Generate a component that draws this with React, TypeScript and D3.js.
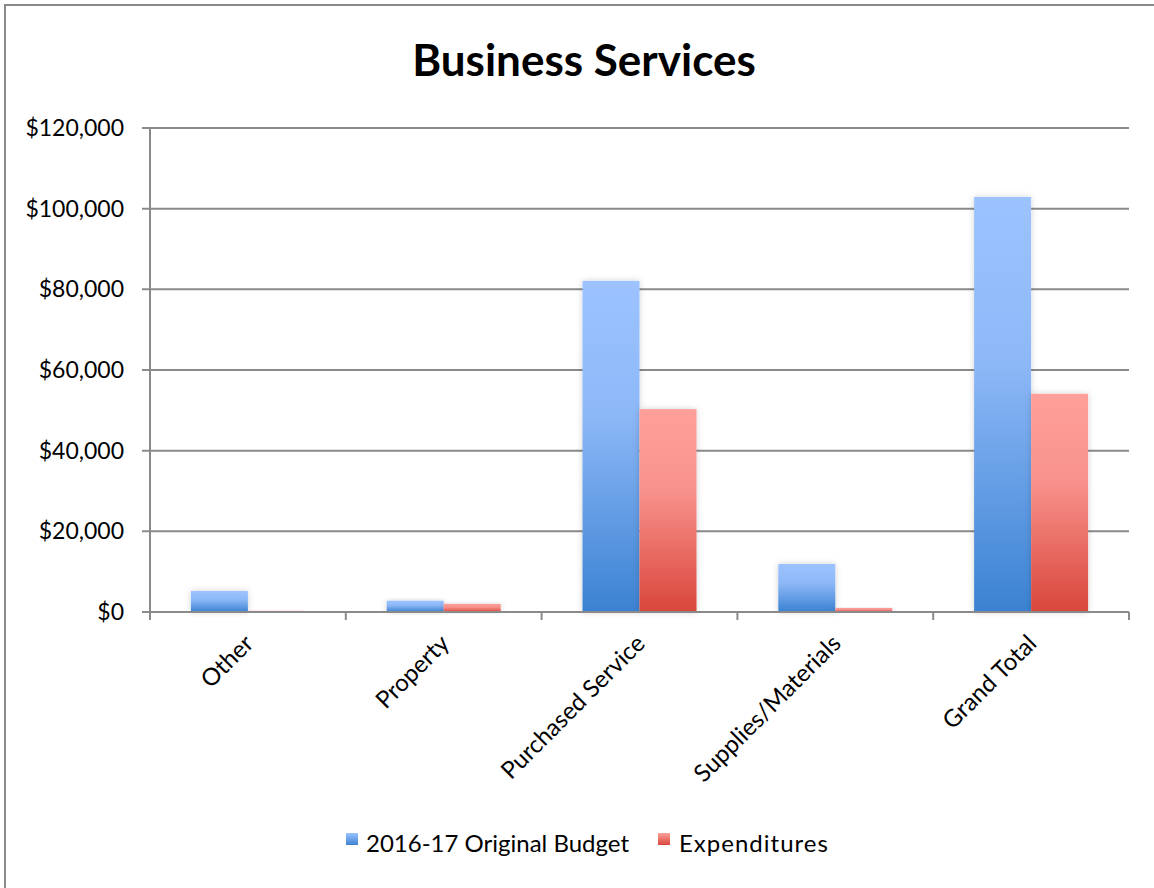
import React from "react";
import * as d3 from "d3";

const categories = ["Other", "Property", "Purchased Service", "Supplies/Materials", "Grand Total"];
const budget = [5200, 2800, 82100, 11900, 102900];
const expenditures = [300, 2000, 50300, 1000, 54100];
const seriesNames = ["2016-17 Original Budget", "Expenditures"];
const yTicks = [0, 20000, 40000, 60000, 80000, 100000, 120000];

const W = 1154, H = 888;
const FONT = "Lato, 'Open Sans', sans-serif";

export default function App() {
  const x0 = d3.scaleBand<string>().domain(categories).range([150, 1129]).paddingInner(0).paddingOuter(0);
  const y = d3.scaleLinear().domain([0, 120000]).range([612, 128]);
  const bw = 57;
  const fmt = (v: number) => "$" + d3.format(",")(v);
  const series = [budget, expenditures];
  const grads = ["gBlue", "gRed"];

  return (
    <svg width={W} height={H} style={{ position: "absolute", left: 0, top: 0 }}>
      <defs>
        <linearGradient id="gBlue" x1="0" y1="0" x2="0" y2="1">
          <stop offset="0%" stopColor="#9CC3FF" />
          <stop offset="40%" stopColor="#8DB8F7" />
          <stop offset="100%" stopColor="#3B82D2" />
        </linearGradient>
        <linearGradient id="gRed" x1="0" y1="0" x2="0" y2="1">
          <stop offset="0%" stopColor="#FF9F9A" />
          <stop offset="40%" stopColor="#F8928C" />
          <stop offset="100%" stopColor="#D9463B" />
        </linearGradient>
        <linearGradient id="lBlue" x1="0" y1="0" x2="0" y2="1">
          <stop offset="0%" stopColor="#9CC3FF" />
          <stop offset="100%" stopColor="#3B82D2" />
        </linearGradient>
        <linearGradient id="lRed" x1="0" y1="0" x2="0" y2="1">
          <stop offset="0%" stopColor="#FF9F9A" />
          <stop offset="100%" stopColor="#D9463B" />
        </linearGradient>
        <filter id="shadow" x="-20%" y="-20%" width="140%" height="140%">
          <feDropShadow dx="0" dy="0" stdDeviation="3" floodColor="#000" floodOpacity="0.18" />
        </filter>
      </defs>
      <rect x={0} y={0} width={W} height={H} fill="#fff" />
      <rect x={5} y={5} width={W + 10} height={H + 10} fill="none" stroke="#8a8a8a" strokeWidth={2} />
      <text x={584} y={76} textAnchor="middle" fontFamily={FONT} fontWeight="bold" fontSize={44} fill="#000">
        Business Services
      </text>
      {yTicks.map((t) => (
        <g key={t}>
          <line x1={142} x2={1129} y1={y(t)} y2={y(t)} stroke="#8a8a8a" strokeWidth={2} />
          <text x={124} y={y(t) + 8} textAnchor="end" fontFamily={FONT} fontSize={23} fill="#000">
            {fmt(t)}
          </text>
        </g>
      ))}
      <line x1={150} x2={150} y1={128} y2={620} stroke="#8a8a8a" strokeWidth={2} />
      {categories.map((c, i) => (
        <line key={"tk" + i} x1={x0(c)! + x0.bandwidth()} x2={x0(c)! + x0.bandwidth()} y1={612} y2={620} stroke="#8a8a8a" strokeWidth={2} />
      ))}
      {categories.map((c, i) => {
        const center = x0(c)! + x0.bandwidth() / 2;
        return (
          <g key={c}>
            {series.map((s, k) => {
              const bx = center - bw + k * bw;
              const top = y(s[i]);
              return (
                <rect key={k} x={bx} y={top} width={bw} height={612 - top} fill={`url(#${grads[k]})`} filter="url(#shadow)" />
              );
            })}
            <text
              transform={`translate(${center + 7},${645}) rotate(-45)`}
              textAnchor="end"
              fontFamily={FONT}
              fontSize={24}
              fill="#000"
            >
              {c}
            </text>
          </g>
        );
      })}
      <line x1={142} x2={1129} y1={612} y2={612} stroke="#8a8a8a" strokeWidth={2} />
      <g>
        <rect x={346} y={833} width={12} height={12} fill="url(#lBlue)" />
        <text x={366} y={852} fontFamily={FONT} fontSize={24} fill="#000">{seriesNames[0]}</text>
        <rect x={658} y={833} width={12} height={12} fill="url(#lRed)" />
        <text x={679} y={852} fontFamily={FONT} fontSize={24} letterSpacing={1} fill="#000">{seriesNames[1]}</text>
      </g>
    </svg>
  );
}
